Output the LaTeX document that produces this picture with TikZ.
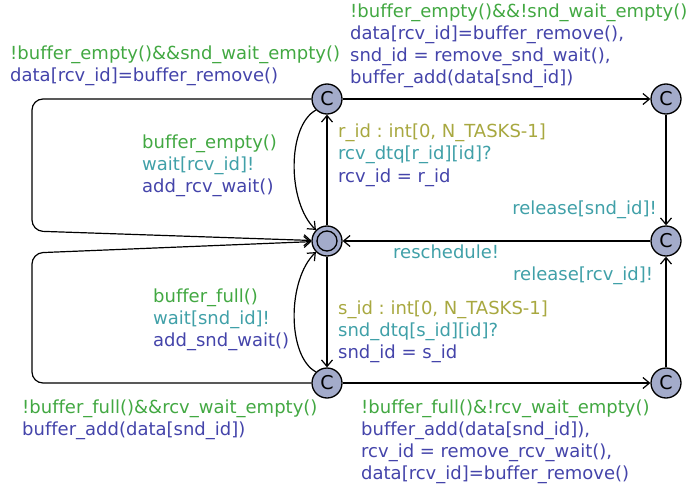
\documentclass[tikz,border=0pt]{standalone}
\usepackage{fontspec}
\setmainfont{DejaVu Sans}[Ligatures=NoCommon]
\usetikzlibrary{arrows.meta}
\frenchspacing
\definecolor{grd}{RGB}{66,168,66}
\definecolor{syn}{RGB}{64,160,168}
\definecolor{upd}{RGB}{68,68,170}
\definecolor{sel}{RGB}{168,168,64}
\definecolor{locfill}{RGB}{163,171,202}
\tikzset{
  loc/.style={circle, draw=black, line width=1.3pt, fill=locfill,
    minimum size=30pt, inner sep=0pt, font=\fontsize{19}{19}\selectfont},
  trans/.style={draw=black, line width=1.2pt,
    -{Straight Barb[length=6.5pt,width=11pt,line width=1.2pt]}},
  lbl/.style={inner sep=0pt, anchor=base west, font=\fontsize{18}{22}\selectfont},
}
\newcommand{\lines}[1]{\begin{tabular}[t]{@{}l@{}}#1\end{tabular}}
\begin{document}
\begin{tikzpicture}[x=1pt,y=-1pt]
\useasboundingbox (0,0) rectangle (693,484);

% locations
\node[loc] (I)  at (327,241) {};
\node[circle, draw=black, line width=1.3pt, minimum size=20pt, inner sep=0pt] (Iin) at (I) {};
\node[loc] (T)  at (327,99)  {C};
\node[loc] (TR) at (666,99)  {C};
\node[loc] (R)  at (666,241) {C};
\node[loc] (B)  at (327,383) {C};
\node[loc] (BR) at (666,383) {C};

% transitions
\draw[trans] (I) -- (T);
\draw[trans] (I) -- (B);
\draw[trans] (T) -- (TR);
\draw[trans] (TR) -- (R);
\draw[trans] (R) -- (I);
\draw[trans] (B) -- (BR);
\draw[trans] (BR) -- (R);
\draw[trans] (T.225) .. controls (287,126) and (287,202) .. (I.135);
\draw[trans] (B.135) .. controls (287,356) and (287,280) .. (I.225);
\draw[trans, rounded corners=11pt] (T) -- (32,99) -- (32,231) -- (I);
\draw[trans, rounded corners=11pt] (B) -- (32,383) -- (32,253) -- (I);

% labels
\node[lbl] (l1) at (10,60) {\lines{%
  \textcolor{grd}{!buffer\_empty()\&\&snd\_wait\_empty()}\\
  \textcolor{upd}{data[rcv\_id]=buffer\_remove()}}};
\node[lbl] (l2) at (350,18) {\lines{%
  \textcolor{grd}{!buffer\_empty()\&\&!snd\_wait\_empty()}\\
  \textcolor{upd}{data[rcv\_id]=buffer\_remove(),}\\
  \textcolor{upd}{snd\_id = remove\_snd\_wait(),}\\
  \textcolor{upd}{buffer\_add(data[snd\_id])}}};
\node[lbl] (l3) at (142,148) {\lines{%
  \textcolor{grd}{buffer\_empty()}\\
  \textcolor{syn}{wait[rcv\_id]!}\\
  \textcolor{upd}{add\_rcv\_wait()}}};
\node[lbl] (l4) at (338,138) {\lines{%
  \textcolor{sel}{r\_id : int[0, N\_TASKS-1]}\\
  \textcolor{syn}{rcv\_dtq[r\_id][id]?}\\
  \textcolor{upd}{rcv\_id = r\_id}}};
\node[lbl, anchor=base east] (l5) at (657,214) {\textcolor{syn}{release[snd\_id]!}};
\node[lbl] (l6) at (393,258) {\textcolor{syn}{reschedule!}};
\node[lbl] (l7) at (513,280) {\textcolor{syn}{release[rcv\_id]!}};
\node[lbl] (l8) at (153,302) {\lines{%
  \textcolor{grd}{buffer\_full()}\\
  \textcolor{syn}{wait[snd\_id]!}\\
  \textcolor{upd}{add\_snd\_wait()}}};
\node[lbl] (l9) at (338,314) {\lines{%
  \textcolor{sel}{s\_id : int[0, N\_TASKS-1]}\\
  \textcolor{syn}{snd\_dtq[s\_id][id]?}\\
  \textcolor{upd}{snd\_id = s\_id}}};
\node[lbl] (l10) at (22,413) {\lines{%
  \textcolor{grd}{!buffer\_full()\&\&rcv\_wait\_empty()}\\
  \textcolor{upd}{buffer\_add(data[snd\_id])}}};
\node[lbl] (l11) at (361,413) {\lines{%
  \textcolor{grd}{!buffer\_full()\&!rcv\_wait\_empty()}\\
  \textcolor{upd}{buffer\_add(data[snd\_id]),}\\
  \textcolor{upd}{rcv\_id = remove\_rcv\_wait(),}\\
  \textcolor{upd}{data[rcv\_id]=buffer\_remove()}}};
\end{tikzpicture}
\end{document}
